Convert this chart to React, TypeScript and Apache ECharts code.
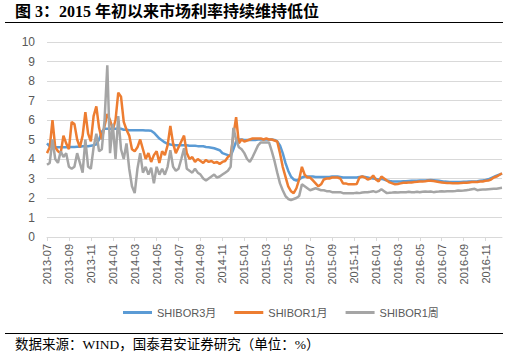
import React, { useEffect, useRef } from "react";
import * as echarts from "echarts";

const months = [
  "2013-07", "2013-08", "2013-09", "2013-10", "2013-11", "2013-12",
  "2014-01", "2014-02", "2014-03", "2014-04", "2014-05", "2014-06",
  "2014-07", "2014-08", "2014-09", "2014-10", "2014-11", "2014-12",
  "2015-01", "2015-02", "2015-03", "2015-04", "2015-05", "2015-06",
  "2015-07", "2015-08", "2015-09", "2015-10", "2015-11", "2015-12",
  "2016-01", "2016-02", "2016-03", "2016-04", "2016-05", "2016-06",
  "2016-07", "2016-08", "2016-09", "2016-10", "2016-11", "2016-12",
];
const weeksInLastMonth = 3;

const seriesNames = ["SHIBOR3月", "SHIBOR1月", "SHIBOR1周"];

const shibor3m = [
  4.8, 4.65, 4.6, 4.6, 4.6, 4.6, 4.6, 4.6, 4.62, 4.62,
  4.62, 4.63, 4.63, 4.65, 4.65, 4.65, 4.68, 4.7, 4.75, 5.0,
  5.4, 5.55, 5.55, 5.55, 5.55, 5.55, 5.55, 5.55, 5.5, 5.5,
  5.48, 5.47, 5.47, 5.47, 5.47, 5.47, 5.46, 5.46, 5.45, 5.35,
  5.2, 5.05, 4.95, 4.85, 4.78, 4.74, 4.72, 4.7, 4.7, 4.7,
  4.7, 4.7, 4.68, 4.68, 4.68, 4.66, 4.65, 4.65, 4.62, 4.6,
  4.58, 4.55, 4.5, 4.45, 4.3, 4.25, 4.2, 4.15, 4.5, 4.9,
  5.0, 5.0, 4.98, 4.98, 4.98, 4.98, 4.98, 5.0, 5.0, 5.0,
  5.0, 5.0, 5.0, 4.98, 4.9, 4.7, 4.3, 3.8, 3.4, 3.1,
  2.95, 2.9, 2.95, 3.05, 3.1, 3.1, 3.1, 3.1, 3.08, 3.08,
  3.08, 3.08, 3.08, 3.08, 3.1, 3.1, 3.1, 3.08, 3.05, 3.05,
  3.05, 3.05, 3.05, 3.05, 3.08, 3.1, 3.08, 3.05, 3.02, 3.0,
  2.98, 2.95, 2.98, 2.95, 2.9, 2.87, 2.85, 2.84, 2.84, 2.85,
  2.86, 2.86, 2.87, 2.88, 2.88, 2.89, 2.9, 2.9, 2.9, 2.91,
  2.92, 2.91, 2.9, 2.88, 2.86, 2.84, 2.83, 2.82, 2.82, 2.82,
  2.82, 2.82, 2.83, 2.83, 2.84, 2.85, 2.85, 2.86, 2.88, 2.9,
  2.92, 2.96, 3.02, 3.08, 3.14, 3.2, 3.25,
];

const shibor1m = [
  4.3, 4.6, 6.0, 4.6, 4.4, 4.3, 5.2, 4.8, 4.5, 5.9,
  5.8, 5.0, 4.6, 5.2, 6.4, 5.3, 4.9, 6.2, 6.7, 5.6,
  5.0, 5.7, 6.3, 6.0, 5.5, 6.0, 7.4, 7.2, 5.9, 5.5,
  5.2, 4.5, 4.4, 4.6, 5.0, 4.5, 4.0, 4.3, 3.85, 4.2,
  4.4, 3.8, 4.4, 4.2, 4.7, 5.7, 4.8, 4.3, 4.6, 4.9,
  5.2, 4.3, 4.0, 4.1, 3.85, 4.0, 3.9, 3.8, 3.95, 3.85,
  3.9, 3.8, 3.85, 3.75, 3.85, 3.9, 4.1, 4.2, 5.2, 6.15,
  4.8, 5.0, 4.9, 4.95, 5.0, 5.05, 5.05, 5.05, 5.05, 5.0,
  5.05, 5.0, 5.0, 4.95, 4.9, 4.3, 3.6, 3.1, 2.6, 2.35,
  2.25, 2.5, 2.95, 3.6, 3.2, 3.05, 3.05, 2.9, 2.75, 2.6,
  2.7, 2.95, 3.0, 3.0, 3.05, 3.05, 3.05, 3.0, 2.75, 2.75,
  2.7, 2.7, 2.7, 2.72, 3.05, 3.1, 3.05, 2.95, 3.0, 3.15,
  2.95, 2.85, 3.1, 3.0, 2.9, 2.8, 2.75, 2.7, 2.72, 2.75,
  2.78, 2.78, 2.8, 2.8, 2.82, 2.83, 2.85, 2.85, 2.86, 2.88,
  2.88, 2.87, 2.85, 2.82, 2.8, 2.78, 2.77, 2.77, 2.76, 2.76,
  2.76, 2.77, 2.78, 2.78, 2.8, 2.82, 2.82, 2.82, 2.85, 2.85,
  2.88, 2.9, 2.95, 3.05, 3.1, 3.18, 3.27,
];

const shibor1w = [
  3.7, 3.8, 5.0, 4.0, 3.8, 4.4, 4.1, 4.3, 3.6, 3.5,
  3.6, 4.3, 3.8, 3.3, 5.0, 3.6, 3.5, 4.6, 5.3, 4.4,
  4.5, 6.0, 8.8, 4.3, 5.8, 4.0, 6.2, 4.5, 4.0, 4.8,
  3.5, 2.6, 2.25, 3.5, 4.3, 3.3, 3.6, 3.2, 3.55, 2.75,
  3.6, 3.2, 3.5, 3.2, 3.6, 4.45, 3.6, 3.4, 3.5, 4.0,
  4.55, 3.5, 3.4, 3.3, 3.5, 3.3, 3.2, 3.0, 2.9, 3.0,
  3.1, 3.2, 3.05, 3.1, 3.2, 3.3, 3.4, 3.6, 5.6, 5.0,
  4.6, 4.5, 4.3, 4.0, 3.85, 4.1, 4.4, 4.7, 4.85, 4.85,
  4.85, 4.85, 4.4, 3.9, 3.3, 2.75, 2.4, 2.1, 1.95, 1.9,
  1.95, 2.0, 2.1, 2.7, 2.6, 2.5, 2.4, 2.45, 2.5, 2.45,
  2.4, 2.4, 2.35, 2.35, 2.3, 2.3, 2.3, 2.3, 2.25, 2.25,
  2.25, 2.25, 2.25, 2.27, 2.25, 2.28, 2.3, 2.3, 2.32, 2.35,
  2.3, 2.35, 2.45, 2.35, 2.25, 2.27, 2.28, 2.3, 2.28, 2.3,
  2.3, 2.3, 2.32, 2.3, 2.3, 2.32, 2.3, 2.32, 2.33, 2.32,
  2.33, 2.3, 2.32, 2.33, 2.35, 2.33, 2.34, 2.35, 2.35, 2.36,
  2.38, 2.37, 2.38, 2.4, 2.42, 2.45, 2.47, 2.4, 2.42, 2.43,
  2.44, 2.45, 2.46, 2.47, 2.48, 2.5, 2.52,
];

const yTicks = { min: 0, max: 10, interval: 1 };
const titleText = "图 3：2015 年初以来市场利率持续维持低位";
const sourceText = "数据来源：WIND，国泰君安证券研究（单位：%）";
const colors = ["#5B9BD5", "#ED7D31", "#A5A5A5"];

function buildCategories(): string[] {
  const cats: string[] = [];
  months.forEach((m, i) => {
    const n = i === months.length - 1 ? weeksInLastMonth : 4;
    for (let k = 0; k < n; k++) cats.push(`${m}-w${k}`);
  });
  return cats;
}

export default function App() {
  const ref = useRef<HTMLDivElement>(null);
  useEffect(() => {
    document.body.style.margin = "0";
    if (!ref.current) return;
    const chart = echarts.init(ref.current, undefined, { renderer: "svg" });
    const categories = buildCategories();
    const labelShown = (index: number) => index % 8 === 0;
    const serif = "'Liberation Serif', 'Noto Sans CJK SC', serif";
    const sans = "'Liberation Sans', 'Noto Sans CJK SC', sans-serif";
    const data = [shibor3m, shibor1m, shibor1w];
    chart.setOption({
      animation: false,
      textStyle: { fontFamily: sans },
      grid: { left: 47, right: 8, top: 42, bottom: 122, containLabel: false },
      legend: {
        left: 118,
        top: 302,
        icon: "rect",
        itemWidth: 29,
        itemHeight: 3,
        itemGap: 18,
        textStyle: { fontSize: 11, color: "#595959", fontFamily: sans },
        data: seriesNames,
      },
      xAxis: {
        type: "category",
        data: categories,
        boundaryGap: false,
        axisLine: { show: true, lineStyle: { color: "#D9D9D9" } },
        axisTick: { show: true, interval: labelShown, length: 4, lineStyle: { color: "#D9D9D9" } },
        axisLabel: {
          interval: labelShown,
          rotate: 90,
          margin: 7,
          fontSize: 11,
          color: "#595959",
          formatter: (v: string) => v.slice(0, 7),
        },
        splitLine: { show: false },
      },
      yAxis: {
        type: "value",
        min: yTicks.min,
        max: yTicks.max,
        interval: yTicks.interval,
        axisLine: { show: false },
        axisTick: { show: false },
        axisLabel: { fontSize: 12, color: "#595959", margin: 12 },
        splitLine: { lineStyle: { color: "#D9D9D9", width: 1 } },
      },
      series: seriesNames.map((name, i) => ({
        name,
        type: "line",
        data: data[i],
        symbol: "none",
        showSymbol: false,
        itemStyle: { color: colors[i] },
        lineStyle: { color: colors[i], width: 2.5 },
      })),
      graphic: [
        {
          type: "text",
          left: 15,
          top: 3,
          style: { text: titleText, font: `bold 16px ${serif}`, fill: "#000" },
        },
        { type: "line", shape: { x1: 5, y1: 22.5, x2: 503, y2: 22.5 }, style: { stroke: "#000", lineWidth: 1 } },
        { type: "line", shape: { x1: 5, y1: 333.5, x2: 503, y2: 333.5 }, style: { stroke: "#000", lineWidth: 1 } },
        {
          type: "text",
          left: 15,
          top: 338,
          style: { text: sourceText, font: `13.5px ${serif}`, fill: "#000" },
        },
      ],
    });
    return () => chart.dispose();
  }, []);
  return <div ref={ref} style={{ width: 510, height: 359 }} />;
}
